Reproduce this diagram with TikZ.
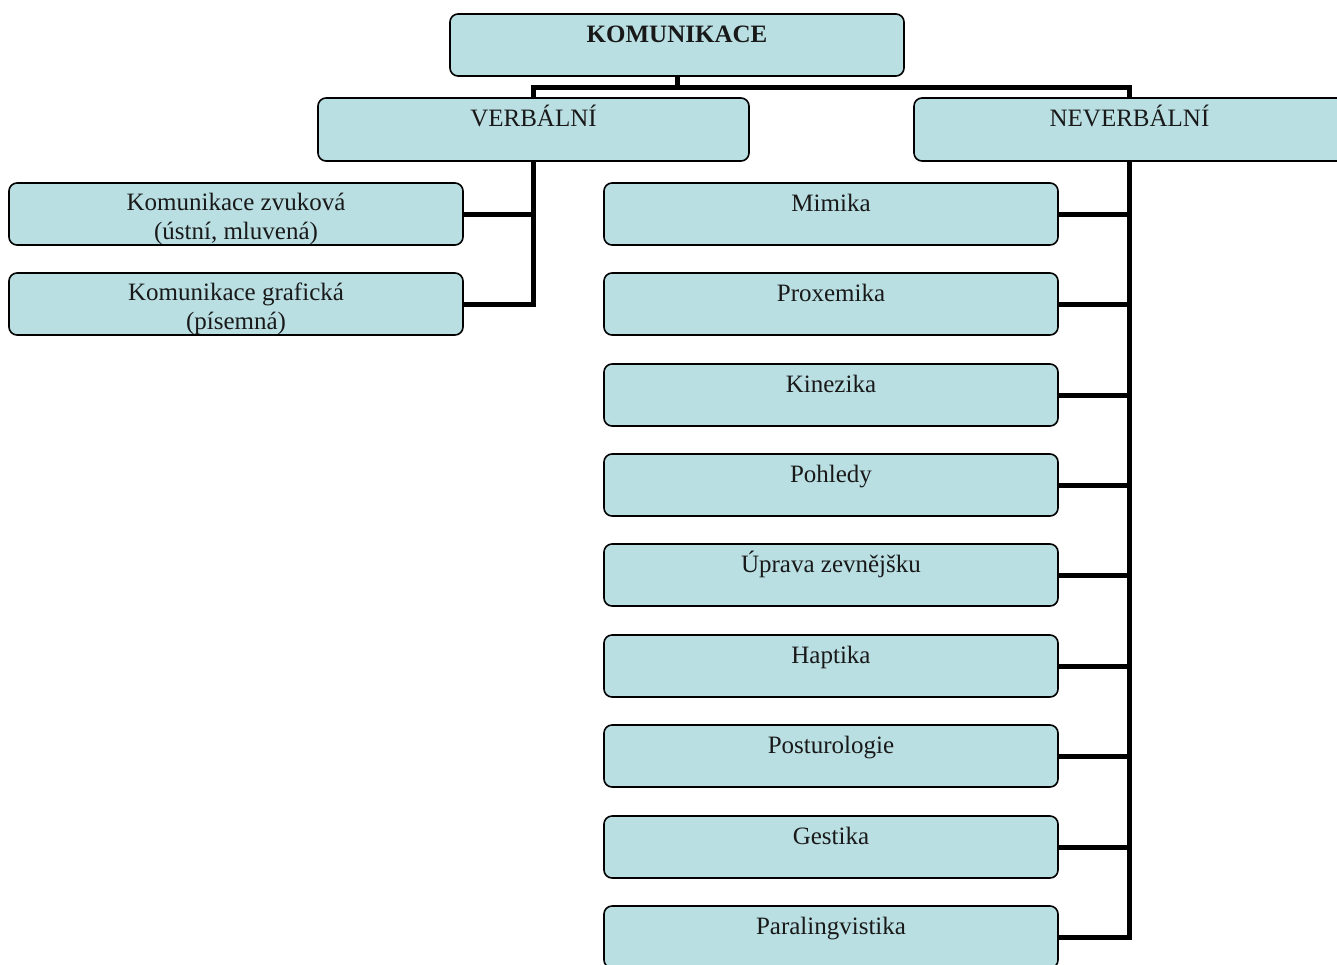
\documentclass[tikz,border=0pt]{standalone}
\usepackage{fontspec}
\setmainfont{Liberation Serif}
\definecolor{boxfill}{RGB}{185,223,227}
\tikzset{
  box/.style={draw=black, line width=1.6pt, fill=boxfill, rounded corners=8pt,
    inner sep=0pt, minimum height=62pt},
  wbox/.style={box, minimum width=454pt},
  txt/.style={inner sep=0pt, anchor=base, align=center,
    font=\fontsize{25}{29}\selectfont, text=black!90},
  conn/.style={draw=black, line width=5pt}
}
\begin{document}
\begin{tikzpicture}[x=1pt,y=-1pt]
\useasboundingbox (0,0) rectangle (1337,964);
\clip (0,0) rectangle (1337,964);
\node[box, minimum width=454pt] (kom) at (677,45) {};
\node[box, minimum width=431pt, minimum height=63pt] (verb) at (533.5,129.5) {};
\node[box, minimum width=431pt, minimum height=63pt] (nverb) at (1129.5,129.5) {};
\node[wbox] (k1) at (236,214) {};
\node[wbox] (k2) at (236,304) {};
\node[wbox] (n1) at (831,214) {};
\node[wbox] (n2) at (831,304) {};
\node[wbox] (n3) at (831,395) {};
\node[wbox] (n4) at (831,485) {};
\node[wbox] (n5) at (831,575) {};
\node[wbox] (n6) at (831,666) {};
\node[wbox] (n7) at (831,756) {};
\node[wbox] (n8) at (831,847) {};
\node[wbox] (n9) at (831,937) {};
\node[txt, font=\fontsize{25}{29}\selectfont\bfseries] (tkom) at ([yshift=-29.5pt]kom.north) {KOMUNIKACE};
\node[txt] (tverb) at ([yshift=-29pt]verb.north) {VERBÁLNÍ};
\node[txt] (tnverb) at ([yshift=-29pt]nverb.north) {NEVERBÁLNÍ};
\node[txt] (tk1) at ([yshift=-28pt]k1.north) {Komunikace zvuková};
\node[txt] (tk1b) at ([yshift=-57pt]k1.north) {(ústní, mluvená)};
\node[txt] (tk2) at ([yshift=-28pt]k2.north) {Komunikace grafická};
\node[txt] (tk2b) at ([yshift=-57pt]k2.north) {(písemná)};
\foreach \i/\t in {1/Mimika,2/Proxemika,3/Kinezika,4/Pohledy,5/Úprava zevnějšku,6/Haptika,7/Posturologie,8/Gestika,9/Paralingvistika} {
  \node[txt] (tn\i) at ([yshift=-29pt]n\i.north) {\t};
}
\draw[conn] (kom.south) -- ++(0,11) -| (verb.north);
\draw[conn] (kom.south) -- ++(0,11) -| (nverb.north);
\draw[conn] (verb.south) |- (k2.east);
\draw[conn] (verb.south |- k1.east) -- (k1.east);
\draw[conn] (nverb.south) |- (n9.east);
\foreach \i in {1,...,8} {
  \draw[conn] (nverb.south |- n\i.east) -- (n\i.east);
}
\end{tikzpicture}
\end{document}
